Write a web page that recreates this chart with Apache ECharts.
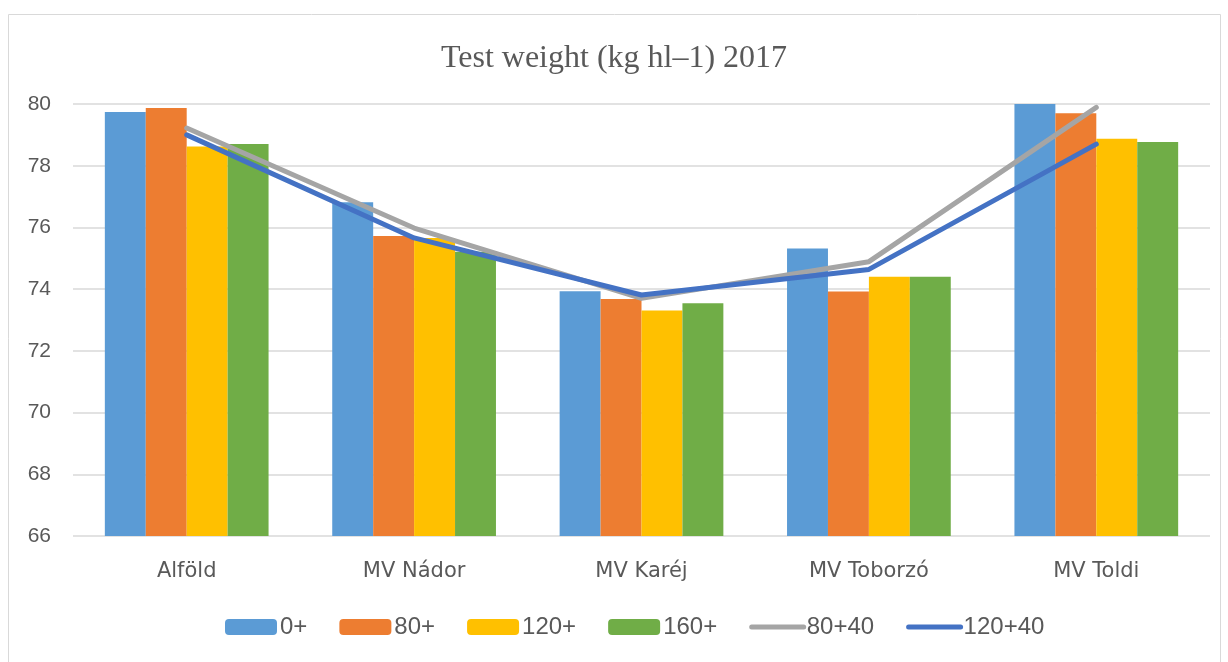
<!DOCTYPE html>
<html>
<head>
<meta charset="utf-8">
<script src="https://cdn.jsdelivr.net/npm/echarts@6/dist/echarts.min.js"></script>
<style>
  html, body { margin: 0; padding: 0; background: #fff; }
  #chart { width: 1228px; height: 662px; }
</style>
</head>
<body>
<div id="chart"></div>
<script>
// categories and values
const categories = ['Alföld', 'MV Nádor', 'MV Karéj', 'MV Toborzó', 'MV Toldi'];
const yTicks = [66, 68, 70, 72, 74, 76, 78, 80];

const s0 = [79.74, 76.82, 73.93, 75.32, 80.05];
const s80 = [79.87, 75.72, 73.68, 73.92, 79.70];
const s120 = [78.62, 75.66, 73.31, 74.40, 78.87];
const s160 = [78.70, 75.21, 73.54, 74.40, 78.77];
const s80p40 = [79.22, 75.98, 73.70, 74.89, 79.89];
const s120p40 = [79.00, 75.66, 73.81, 74.64, 78.70];

const chart = echarts.init(document.getElementById('chart'));

const barSeries = (name, data, color) => ({
  name,
  type: 'bar',
  data,
  barGap: '0%',
  barCategoryGap: '28%',
  itemStyle: { color },
  emphasis: { disabled: true }
});

const lineSeries = (name, data, color) => ({
  name,
  type: 'line',
  data,
  symbol: 'none',
  lineStyle: { color, width: 5, cap: 'round', join: 'round' },
  itemStyle: { color },
  z: 3
});

// line entries in the legend show only a thick rounded stroke, no marker
const lineLegend = name => ({
  name,
  itemStyle: { opacity: 0 },
  lineStyle: { width: 5, cap: 'round' }
});

chart.setOption({
  animation: false,
  graphic: [{
    type: 'rect',
    shape: { x: 8.5, y: 14.5, width: 1212, height: 660 },
    style: { fill: 'none', stroke: '#d9d9d9', lineWidth: 1 },
    silent: true
  }],
  title: {
    text: 'Test weight (kg hl\u20131) 2017',
    left: 'center',
    top: 38,
    textStyle: {
      fontFamily: 'Liberation Serif',
      fontSize: 32,
      fontWeight: 'normal',
      color: '#595959'
    }
  },
  legend: {
    bottom: 18,
    left: 220,
    itemWidth: 52,
    itemHeight: 16,
    itemGap: 32,
    textStyle: { fontFamily: 'Liberation Sans', fontSize: 24, color: '#595959', padding: [0, 0, 0, -2] },
    data: ['0+', '80+', '120+', '160+', lineLegend('80+40'), lineLegend('120+40')]
  },
  grid: { left: 73, right: 18, top: 104, bottom: 126 },
  xAxis: {
    type: 'category',
    data: categories,
    axisLine: { show: false },
    axisTick: { show: false },
    axisLabel: { fontFamily: 'DejaVu Sans', fontSize: 21, color: '#595959', margin: 25 }
  },
  yAxis: {
    type: 'value',
    min: yTicks[0],
    max: yTicks[yTicks.length - 1],
    interval: 2,
    axisLine: { show: false },
    axisTick: { show: false },
    axisLabel: { fontFamily: 'Liberation Sans', fontSize: 21, color: '#595959', margin: 22 },
    splitLine: { lineStyle: { color: '#d9d9d9', width: 1.5 } }
  },
  series: [
    barSeries('0+', s0, '#5b9bd5'),
    barSeries('80+', s80, '#ed7d31'),
    barSeries('120+', s120, '#ffc000'),
    barSeries('160+', s160, '#70ad47'),
    lineSeries('80+40', s80p40, '#a5a5a5'),
    lineSeries('120+40', s120p40, '#4472c4')
  ]
});
</script>
</body>
</html>
